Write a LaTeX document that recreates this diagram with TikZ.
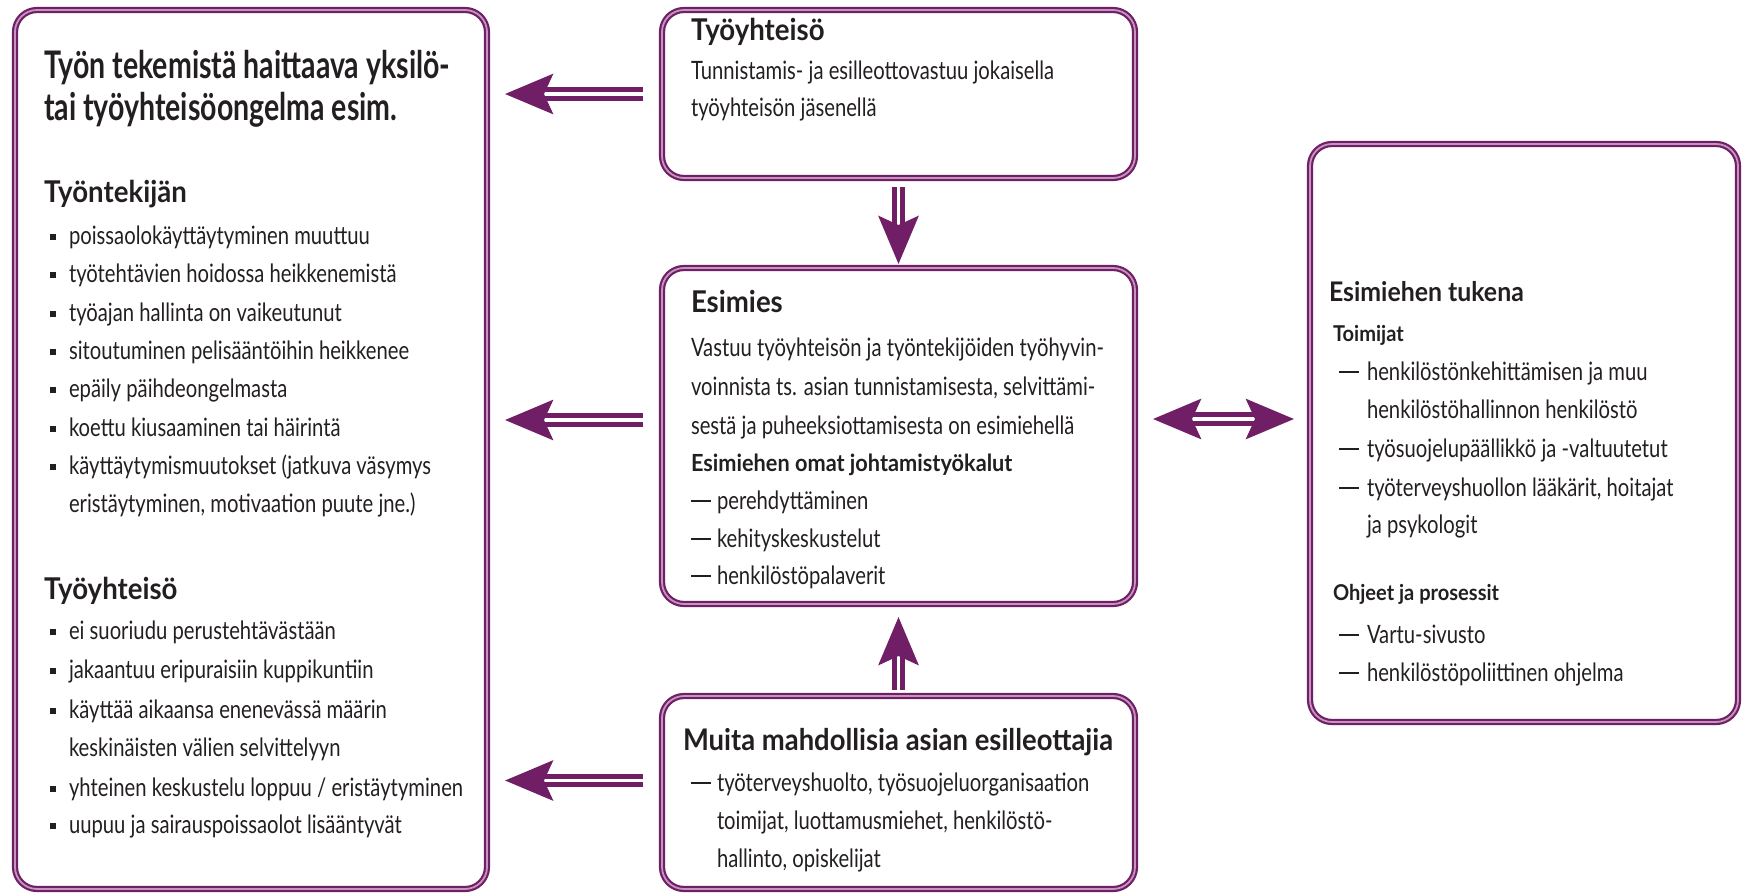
\documentclass[tikz,border=0pt]{standalone}
\usepackage{fontspec}
\setmainfont{Lato}[FakeStretch=0.8]
\newfontfamily\headfont{Lato}[FakeStretch=0.92]
\newfontfamily\titlefont{Lato}[FakeStretch=0.75]
\usetikzlibrary{arrows.meta,calc}
\definecolor{purp}{RGB}{112,30,102}
\definecolor{purpl}{RGB}{196,150,190}
\definecolor{ink}{RGB}{35,31,32}
\newcommand\sqb{\rule[4pt]{6pt}{6pt}}
\newcommand\emd{\rule[7.5pt]{20pt}{1.6pt}}
\tikzset{
  box/.style={draw=purp, line width=2.2pt, double=purpl, double distance=1.8pt,
    rounded corners=22pt, rectangle, inner sep=0pt, outer sep=0pt},
  tipA/.tip={Stealth[length=48pt,width=40pt,inset=9pt]},
  bigarr/.style={draw=purp, line width=5pt, double=white, double distance=3.5pt, -tipA},
  both2/.style={draw=purp, line width=5pt, double=white, double distance=3.5pt, tipA-tipA},
  txt/.style={anchor=base west, inner sep=0pt, outer sep=0pt, text=ink,
    font=\fontsize{25.3}{30}\selectfont},
  ttl/.style={txt, font=\titlefont\fontsize{38}{42}\selectfont\bfseries},
  hd/.style={txt, font=\headfont\fontsize{30}{35}\selectfont\bfseries},
  sub/.style={txt, font=\headfont\fontsize{21.8}{26}\selectfont\bfseries}
}
\begin{document}
\begin{tikzpicture}[x=1pt,y=-1pt]
\useasboundingbox (0,0) rectangle (1742,894);
% boxes
\node[box, minimum width=472pt, minimum height=879pt] (left) at (251,449.5) {};
\node[box, minimum width=473pt, minimum height=168pt] (top) at (898.5,94) {};
\node[box, minimum width=473pt, minimum height=336pt] (esimies) at (898.5,436) {};
\node[box, minimum width=473pt, minimum height=193pt] (muita) at (898.5,792.5) {};
\node[box, minimum width=428pt, minimum height=578pt] (right) at (1524,433) {};
% arrows
\draw[bigarr] ($(top.west)+(-19,0)$) -- ($(left.east |- top.west)+(18,0)$);
\draw[bigarr] ($(esimies.west)+(-19,-16)$) -- ($(left.east |- esimies.west)+(18,-16)$);
\draw[bigarr] ($(muita.west)+(-19,-12)$) -- ($(left.east |- muita.west)+(18,-12)$);
\draw[bigarr] ($(top.south)+(0,9)$) -- ($(esimies.north)+(0,-4)$);
\draw[bigarr] ($(muita.north)+(0,-6)$) -- ($(esimies.south)+(0,13)$);
\draw[both2] ($(esimies.east)+(18,-17)$) -- ($(right.west |- esimies.east)+(-16,-17)$);
% left box text
\node[ttl] (l0) at (44,78) {Työn tekemistä haittaava yksilö-};
\node[ttl] (l0b) at (44,120) {tai työyhteisöongelma esim.};
\node[hd] (l1) at (44,202) {Työntekijän};
\node[txt] (lb1) at (50,244) {\sqb}; \node[txt] (lt1) at (69,244) {poissaolokäyttäytyminen muuttuu};
\node[txt] (lb2) at (50,282) {\sqb}; \node[txt] (lt2) at (69,282) {työtehtävien hoidossa heikkenemistä};
\node[txt] (lb3) at (50,321) {\sqb}; \node[txt] (lt3) at (69,321) {työajan hallinta on vaikeutunut};
\node[txt] (lb4) at (50,359) {\sqb}; \node[txt] (lt4) at (69,359) {sitoutuminen pelisääntöihin heikkenee};
\node[txt] (lb5) at (50,397) {\sqb}; \node[txt] (lt5) at (69,397) {epäily päihdeongelmasta};
\node[txt] (lb6) at (50,436) {\sqb}; \node[txt] (lt6) at (69,436) {koettu kiusaaminen tai häirintä};
\node[txt] (lb7) at (50,474) {\sqb}; \node[txt] (lt7) at (69,474) {käyttäytymismuutokset (jatkuva väsymys};
\node[txt] (lt7b) at (69,512) {eristäytyminen, motivaation puute jne.)};
\node[hd] (l2) at (44,599) {Työyhteisö};
\node[txt] (lc1) at (50,639) {\sqb}; \node[txt] (lu1) at (69,639) {ei suoriudu perustehtävästään};
\node[txt] (lc2) at (50,678) {\sqb}; \node[txt] (lu2) at (69,678) {jakaantuu eripuraisiin kuppikuntiin};
\node[txt] (lc3) at (50,718) {\sqb}; \node[txt] (lu3) at (69,718) {käyttää aikaansa enenevässä määrin};
\node[txt] (lu3b) at (69,756) {keskinäisten välien selvittelyyn};
\node[txt] (lc4) at (50,796) {\sqb}; \node[txt] (lu4) at (69,796) {yhteinen keskustelu loppuu / eristäytyminen};
\node[txt] (lc5) at (50,833) {\sqb}; \node[txt] (lu5) at (69,833) {uupuu ja sairauspoissaolot lisääntyvät};
% top box text
\node[hd] (t0) at (691,40) {Työyhteisö};
\node[txt] (t1) at (691,79) {Tunnistamis- ja esilleottovastuu jokaisella};
\node[txt] (t2) at (691,116) {työyhteisön jäsenellä};
% esimies text
\node[hd] (e0) at (691,312) {Esimies};
\node[txt] (e1) at (691,356) {Vastuu työyhteisön ja työntekijöiden työhyvin-};
\node[txt] (e2) at (691,395) {voinnista ts. asian tunnistamisesta, selvittämi-};
\node[txt] (e3) at (691,434) {sestä ja puheeksiottamisesta on esimiehellä};
\node[sub, font=\headfont\fontsize{23.6}{28}\selectfont\bfseries] (e4) at (691,471) {Esimiehen omat johtamistyökalut};
\node[txt] (e5) at (691,509) {\emd\hspace{6pt}perehdyttäminen};
\node[txt] (e6) at (691,547) {\emd\hspace{6pt}kehityskeskustelut};
\node[txt] (e7) at (691,584) {\emd\hspace{6pt}henkilöstöpalaverit};
% muita text
\node[hd, font=\headfont\fontsize{29.8}{35}\selectfont\bfseries] (m0) at (683,750) {Muita mahdollisia asian esilleottajia};
\node[txt] (md) at (691,791) {\emd};
\node[txt] (m1) at (717,791) {työterveyshuolto, työsuojeluorganisaation};
\node[txt] (m2) at (717,829) {toimijat, luottamusmiehet, henkilöstö-};
\node[txt] (m3) at (717,867) {hallinto, opiskelijat};
% right box text
\node[hd, font=\headfont\fontsize{27}{32}\selectfont\bfseries] (r0) at (1329,301) {Esimiehen tukena};
\node[sub] (r1) at (1333,341) {Toimijat};
\node[txt] (rd1) at (1339,380) {\emd}; \node[txt] (r2) at (1367,380) {henkilöstönkehittämisen ja muu};
\node[txt] (r3) at (1367,418) {henkilöstöhallinnon henkilöstö};
\node[txt] (rd2) at (1339,457) {\emd}; \node[txt] (r4) at (1367,457) {työsuojelupäällikkö ja -valtuutetut};
\node[txt] (rd3) at (1339,496) {\emd}; \node[txt] (r5) at (1367,496) {työterveyshuollon lääkärit, hoitajat};
\node[txt] (r6) at (1367,533) {ja psykologit};
\node[sub] (r7) at (1333,600) {Ohjeet ja prosessit};
\node[txt] (rd4) at (1339,643) {\emd}; \node[txt] (r8) at (1367,643) {Vartu-sivusto};
\node[txt] (rd5) at (1339,681) {\emd}; \node[txt] (r9) at (1367,681) {henkilöstöpoliittinen ohjelma};
\end{tikzpicture}
\end{document}
